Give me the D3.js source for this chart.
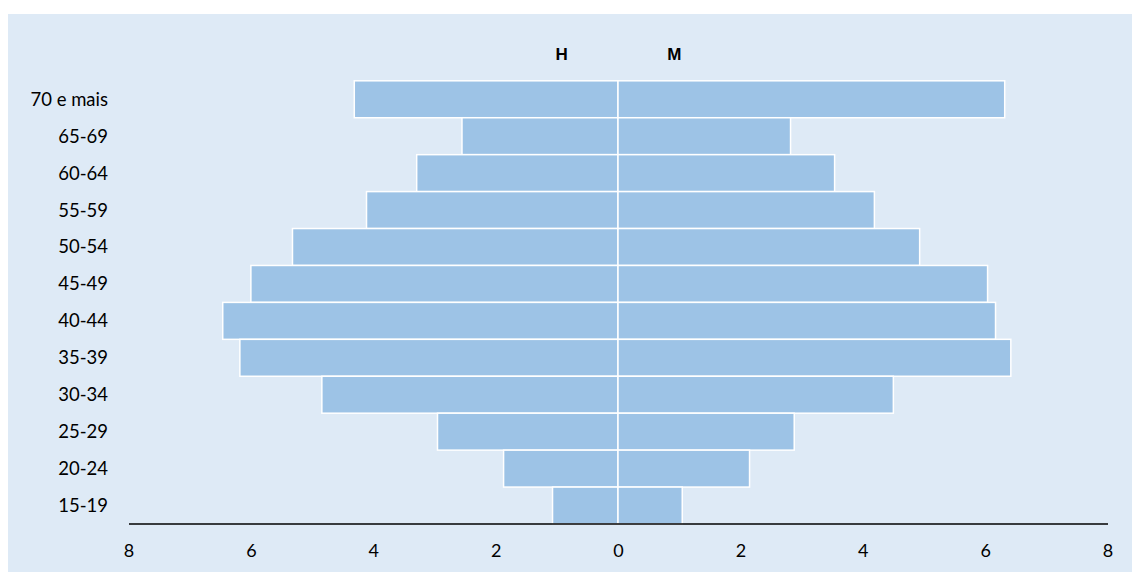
<!DOCTYPE html>
<html><head><meta charset="utf-8">
<script src="https://cdn.jsdelivr.net/npm/d3@7"></script>
<style>body{margin:0;background:#fff}svg{display:block}</style>
</head><body>
<svg id="c" width="1132" height="572"></svg>
<script>
const categories = ["70 e mais","65-69","60-64","55-59","50-54","45-49","40-44","35-39","30-34","25-29","20-24","15-19"];
const homens = [4.31,2.55,3.29,4.11,5.32,6.00,6.46,6.18,4.84,2.95,1.87,1.07];
const mulheres = [6.32,2.82,3.54,4.19,4.93,6.04,6.17,6.42,4.50,2.88,2.15,1.05];
const tickValues = [-8,-6,-4,-2,0,2,4,6,8];
const seriesNames = ["H","M"];

const svg = d3.select("#c");
svg.append("rect").attr("x",8).attr("y",14).attr("width",1124).attr("height",558).attr("fill","#deeaf6");

const x = d3.scaleLinear().domain([-8,8]).range([128.5,1107.5]);
const y = d3.scaleBand().domain(categories).range([80.8,524]).padding(0);
const fill = "#9dc3e6";

const g = svg.append("g");
g.selectAll("rect.h").data(categories).join("rect").attr("class","h")
  .attr("x",(d,i)=>x(-homens[i])).attr("y",d=>y(d))
  .attr("width",(d,i)=>x(0)-x(-homens[i])).attr("height",y.bandwidth())
  .attr("fill",fill).attr("stroke","#fff").attr("stroke-width",1.5);
g.selectAll("rect.m").data(categories).join("rect").attr("class","m")
  .attr("x",x(0)).attr("y",d=>y(d))
  .attr("width",(d,i)=>x(mulheres[i])-x(0)).attr("height",y.bandwidth())
  .attr("fill",fill).attr("stroke","#fff").attr("stroke-width",1.5);

// category labels
svg.append("g").selectAll("text").data(categories).join("text")
  .attr("x",108).attr("y",d=>y(d)+y.bandwidth()/2).attr("dy","0.35em")
  .attr("text-anchor","end").attr("font-family","Lato, 'Open Sans', sans-serif")
  .attr("font-size",18.5).attr("fill","#000").text(d=>d);

// x axis
const axis = d3.axisBottom(x).tickValues(tickValues).tickSize(0).tickPadding(21)
  .tickFormat(d=>Math.abs(d));
const ax = svg.append("g").attr("transform","translate(0,523.5)").call(axis);
ax.select(".domain").attr("stroke","#000").attr("stroke-width",1.3);
ax.selectAll("text").attr("font-family","Lato, 'Open Sans', sans-serif").attr("font-size",18).attr("fill","#000");

// series headers
svg.append("g").selectAll("text").data(seriesNames).join("text")
  .attr("x",(d,i)=>x(i===0?-0.92:0.92)).attr("y",54).attr("dy","0.35em")
  .attr("text-anchor","middle").attr("font-family","'Liberation Sans', Arial, sans-serif")
  .attr("font-weight","bold").attr("font-size",17).attr("fill","#000").text(d=>d);
</script>
</body></html>
